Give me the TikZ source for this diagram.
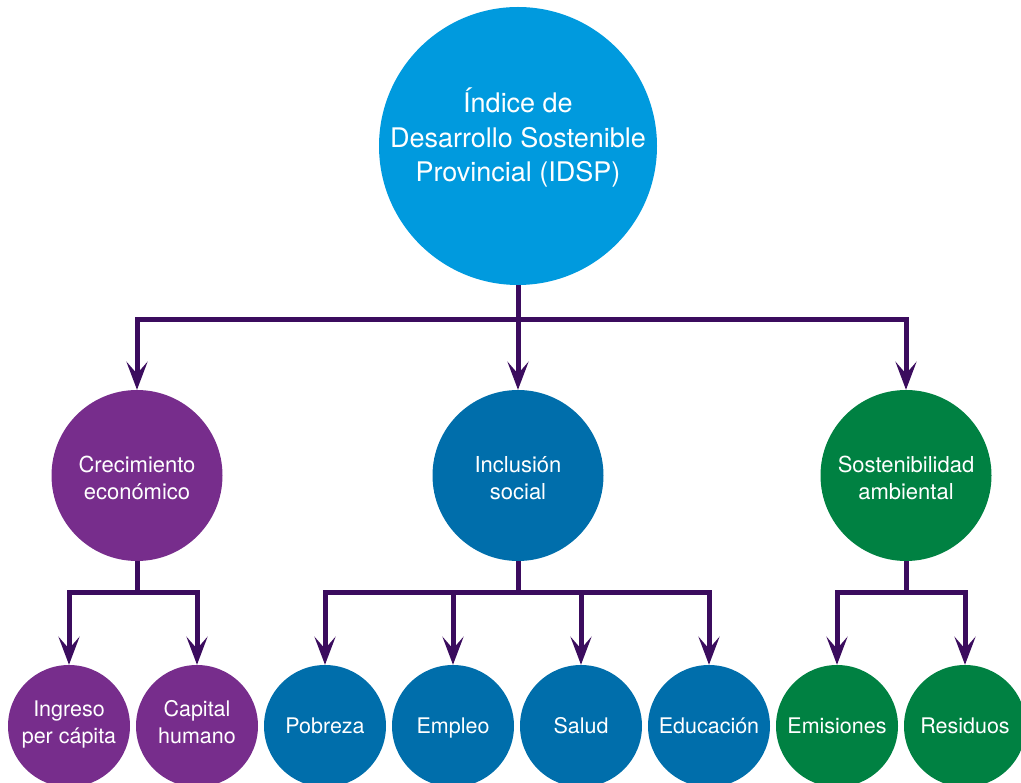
\documentclass[tikz,border=0pt]{standalone}
\usepackage{fontspec}
\setmainfont{TeX Gyre Heros}
\usetikzlibrary{arrows.meta,calc,positioning}
\definecolor{idspblue}{HTML}{009ADE}
\definecolor{crecpurple}{HTML}{772D8C}
\definecolor{incblue}{HTML}{006EAB}
\definecolor{sostgreen}{HTML}{008142}
\definecolor{linkpurple}{HTML}{3B0C5E}

\begin{document}
\begin{tikzpicture}[x=1pt,y=1pt,node distance=128pt]
\tikzstyle{circ}=[circle,inner sep=0pt,text=white,align=center]
\tikzstyle{mainc}=[circ,minimum size=278pt,font=\fontsize{27}{34.3}\selectfont,text height=76pt,text depth=5pt]
\tikzstyle{dim}=[circ,minimum size=171pt,font=\fontsize{22}{27}\selectfont,text height=50pt,text depth=1pt]
\tikzstyle{sub}=[circ,minimum size=122pt,font=\fontsize{21.5}{26.5}\selectfont,text height=15pt,text depth=0pt]
\tikzstyle{twoline}=[text height=34pt,text depth=0pt]
\tikzstyle{link}=[line width=5pt,draw=linkpurple]
\tikzstyle{arrow}=[link,-{Stealth[length=28pt,width=21pt,inset=12pt]}]

\useasboundingbox (0,0) rectangle (1021,-783);

% index
\node[mainc,fill=idspblue] (idsp) at (518,-146) {Índice de\\Desarrollo Sostenible\\Provincial (IDSP)};

% dimensions
\node[dim,fill=incblue,node distance=329.5pt,below of=idsp] (incl) {Inclusión\\social};
\node[dim,fill=crecpurple,node distance=381pt,left of=incl] (crec) {Crecimiento\\económico};
\node[dim,fill=sostgreen,node distance=388pt,right of=incl] (sost) {Sostenibilidad\\ambiental};

% indicators
\node[sub,twoline,fill=crecpurple,node distance=250.5pt,below of=crec,xshift=-68pt] (ing) {Ingreso\\per cápita};
\node[sub,twoline,fill=crecpurple,right of=ing] (cap) {Capital\\humano};
\node[sub,fill=incblue,right of=cap] (pob) {Pobreza};
\node[sub,fill=incblue,right of=pob] (emp) {Empleo};
\node[sub,fill=incblue,right of=emp] (sal) {Salud};
\node[sub,fill=incblue,right of=sal] (edu) {Educación};
\node[sub,fill=sostgreen,right of=edu] (emi) {Emisiones};
\node[sub,fill=sostgreen,right of=emi] (res) {Residuos};

\coordinate (j0) at ($(idsp.south)+(0,-34)$);
\coordinate (j1) at ($(crec.south)+(0,-31)$);
\coordinate (j2) at ($(incl.south)+(0,-31)$);
\coordinate (j3) at ($(sost.south)+(0,-31)$);

\draw[link] (idsp) -- (j0);
\draw[arrow] (j0) -| (crec);
\draw[arrow] (j0) -| (incl);
\draw[arrow] (j0) -| (sost);

\draw[link] (crec) -- (j1);
\draw[arrow] (j1) -| (ing);
\draw[arrow] (j1) -| (cap);

\draw[link] (incl) -- (j2);
\draw[arrow] (j2) -| (pob);
\draw[arrow] (j2) -| (emp);
\draw[arrow] (j2) -| (sal);
\draw[arrow] (j2) -| (edu);

\draw[link] (sost) -- (j3);
\draw[arrow] (j3) -| (emi);
\draw[arrow] (j3) -| (res);
\end{tikzpicture}
\end{document}
